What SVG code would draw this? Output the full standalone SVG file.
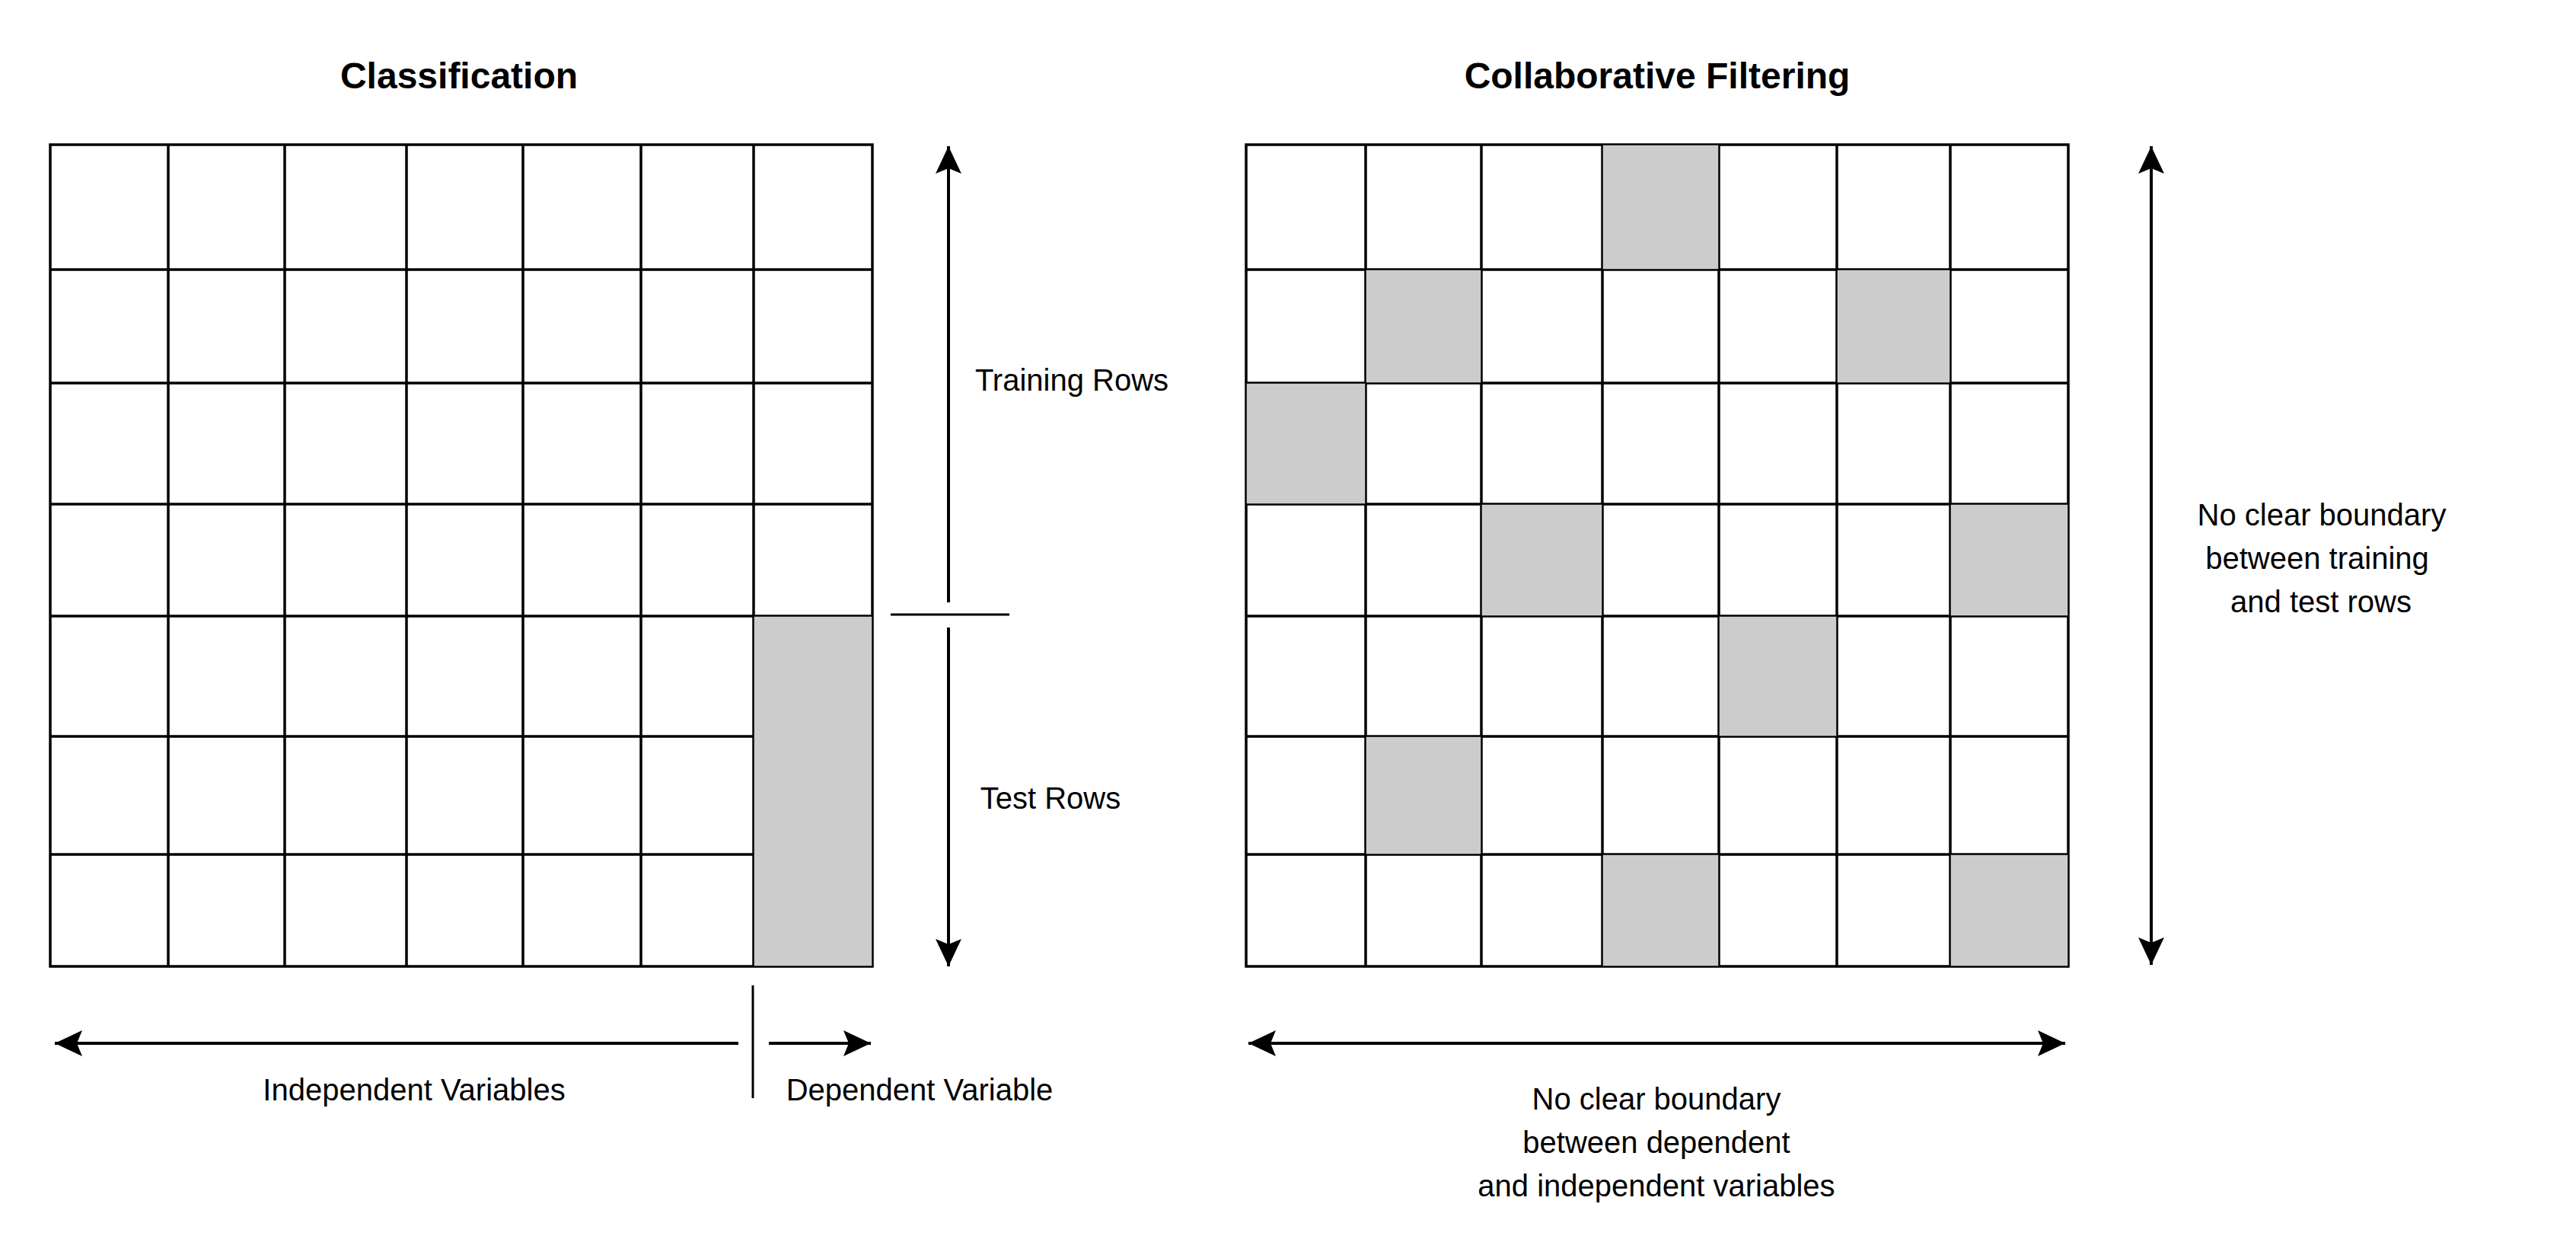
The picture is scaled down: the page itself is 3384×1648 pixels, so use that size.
<svg xmlns="http://www.w3.org/2000/svg" width="3384" height="1648" viewBox="0 0 3384 1648">
<style>
.cell{fill:#fff;stroke:#000;stroke-width:3.5}
.shade{fill:#ccc;stroke:#000;stroke-width:1.5}
.ln{stroke:#000;stroke-width:4;fill:none}
.thin{stroke:#000;stroke-width:3;fill:none}
.t{font-family:"Liberation Sans",Arial,Helvetica,sans-serif;font-size:40px;fill:#000;text-anchor:middle}
.h{font-family:"Liberation Sans",Arial,Helvetica,sans-serif;font-size:48px;font-weight:bold;fill:#000;text-anchor:middle}
</style>
<defs>
<marker id="ah" markerUnits="userSpaceOnUse" markerWidth="40" markerHeight="40" viewBox="-38 -20 40 40" refX="0" refY="0" orient="auto-start-reverse">
<path d="M0,0 L-36,-17 L-29,0 L-36,17 Z" fill="#000"/>
</marker>
</defs>
<rect width="3384" height="1648" fill="#fff"/>

<g id="title-classification"><text class="h" x="603" y="116">Classification</text></g>
<g id="title-cf"><text class="h" x="2177" y="116">Collaborative Filtering</text></g>

<g id="grid-classification">
<path class="cell" d="M66,190H1146V1269H66Z"/>
<path class="thin" style="stroke-width:3.5" d="M221,190V1269M374,190V1269M534,190V1269M687,190V1269M842,190V1269M990,190V1269M66,354H1146M66,503H1146M66,662H1146M66,809H1146M66,967H1146M66,1122H1146"/>
<rect class="shade" x="990" y="809" width="156" height="460"/>
</g>

<g id="grid-cf">
<path class="cell" d="M1637,190H2717V1269H1637Z"/>
<path class="thin" style="stroke-width:3.5" d="M1794,190V1269M1946,190V1269M2105,190V1269M2258,190V1269M2413,190V1269M2562,190V1269M1637,354H2717M1637,503H2717M1637,662H2717M1637,809H2717M1637,967H2717M1637,1122H2717"/>
<rect class="shade" x="2105" y="190" width="153" height="164"/>
<rect class="shade" x="1794" y="354" width="152" height="149"/>
<rect class="shade" x="2413" y="354" width="149" height="149"/>
<rect class="shade" x="1637" y="503" width="157" height="159"/>
<rect class="shade" x="1946" y="662" width="159" height="147"/>
<rect class="shade" x="2562" y="662" width="155" height="147"/>
<rect class="shade" x="2258" y="809" width="155" height="158"/>
<rect class="shade" x="1794" y="967" width="152" height="155"/>
<rect class="shade" x="2105" y="1122" width="153" height="147"/>
<rect class="shade" x="2562" y="1122" width="155" height="147"/>
</g>

<g id="connectors">
<line class="ln" x1="1246" y1="791" x2="1246" y2="192" marker-end="url(#ah)"/>
<line class="ln" x1="1246" y1="824" x2="1246" y2="1269" marker-end="url(#ah)"/>
<line class="thin" x1="1170" y1="807" x2="1326" y2="807"/>
<line class="ln" x1="970" y1="1370" x2="72" y2="1370" marker-end="url(#ah)"/>
<line class="ln" x1="1010" y1="1370" x2="1144" y2="1370" marker-end="url(#ah)"/>
<line class="thin" x1="989" y1="1294" x2="989" y2="1442"/>
<line class="ln" x1="2826" y1="192" x2="2826" y2="1267" marker-start="url(#ah)" marker-end="url(#ah)"/>
<line class="ln" x1="1640" y1="1370" x2="2713" y2="1370" marker-start="url(#ah)" marker-end="url(#ah)"/>
</g>

<g id="labels">
<text class="t" x="1408" y="513">Training Rows</text>
<text class="t" x="1380" y="1062">Test Rows</text>
<text class="t" x="544" y="1445">Independent Variables</text>
<text class="t" x="1208" y="1445">Dependent Variable</text>
<text class="t" x="3050" y="690">No clear boundary</text>
<text class="t" x="3044" y="747">between training</text>
<text class="t" x="3049" y="804">and test rows</text>
<text class="t" x="2176" y="1457">No clear boundary</text>
<text class="t" x="2176" y="1514">between dependent</text>
<text class="t" x="2176" y="1571">and independent variables</text>
</g>
</svg>
